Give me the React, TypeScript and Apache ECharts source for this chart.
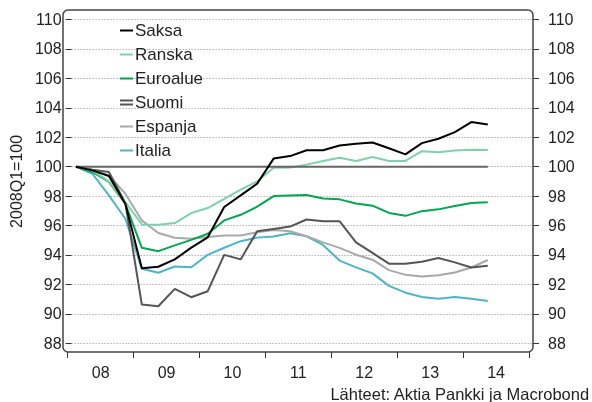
import React, { useEffect, useRef } from 'react';
import * as echarts from 'echarts';

const years = ['08', '09', '10', '11', '12', '13', '14'];
const quarterNames = ['Q1', 'Q2', 'Q3', 'Q4'];
const quarters = years.flatMap((y) => quarterNames.map((q) => `20${y}${q}`));

const saksa = [100, 99.75, 99.37, 97.48, 93.1, 93.2, 93.7, 94.5, 95.2, 97.26, 98.05, 98.85, 100.55, 100.72, 101.12, 101.12, 101.44, 101.55, 101.64, 101.25, 100.84, 101.6, 101.9, 102.35, 103.03, 102.87];
const ranska = [100, 99.75, 99.0, 97.6, 96.08, 96.05, 96.17, 96.85, 97.19, 97.82, 98.44, 99.0, 99.93, 99.95, 100.14, 100.38, 100.61, 100.38, 100.66, 100.39, 100.39, 101.05, 100.98, 101.1, 101.15, 101.13];
const euroalue = [100, 99.64, 98.96, 97.48, 94.49, 94.26, 94.65, 95.03, 95.44, 96.35, 96.73, 97.28, 98.0, 98.05, 98.07, 97.84, 97.78, 97.5, 97.35, 96.86, 96.66, 96.98, 97.1, 97.33, 97.53, 97.58];
const suomi = [100, 99.8, 99.64, 97.53, 90.63, 90.52, 91.7, 91.13, 91.54, 94.01, 93.7, 95.61, 95.77, 95.93, 96.41, 96.3, 96.3, 94.86, 94.14, 93.41, 93.41, 93.54, 93.79, 93.5, 93.15, 93.27];
const espanja = [100, 99.8, 99.41, 98.16, 96.35, 95.49, 95.17, 95.1, 95.22, 95.33, 95.33, 95.55, 95.7, 95.61, 95.27, 94.86, 94.48, 94.02, 93.68, 92.97, 92.65, 92.54, 92.63, 92.81, 93.15, 93.66];
const italia = [100, 99.52, 98.05, 96.46, 93.06, 92.79, 93.22, 93.17, 94.01, 94.49, 94.94, 95.18, 95.25, 95.48, 95.27, 94.68, 93.62, 93.16, 92.75, 91.9, 91.44, 91.14, 91.03, 91.14, 91.03, 90.87];
const indexBase = [100, 100, 100, 100, 100, 100, 100, 100, 100, 100, 100, 100, 100, 100, 100, 100, 100, 100, 100, 100, 100, 100, 100, 100, 100, 100];

const FONT = "'Liberation Sans', Arial, sans-serif";
const SINGLE = 'path://M0,0M13,6M0,2H13V4H0Z';
const DOUBLE = 'path://M0,0H13V2H0ZM0,4H13V6H0Z';

const seriesDefs = [
  { name: 'Italia', data: italia, color: '#4cb6c6', icon: SINGLE },
  { name: 'Espanja', data: espanja, color: '#a9a9a9', icon: SINGLE },
  { name: 'Suomi', data: suomi, color: '#555555', icon: DOUBLE },
  { name: 'Euroalue', data: euroalue, color: '#00a650', icon: SINGLE },
  { name: 'Ranska', data: ranska, color: '#7fd1ab', icon: SINGLE },
  { name: '2008Q1', data: indexBase, color: '#666666', icon: SINGLE },
  { name: 'Saksa', data: saksa, color: '#000000', icon: SINGLE },
];
const legendOrder = ['Saksa', 'Ranska', 'Euroalue', 'Suomi', 'Espanja', 'Italia'];

export default function App() {
  const ref = useRef<HTMLDivElement>(null);
  useEffect(() => {
    if (!ref.current) return;
    const chart = echarts.init(ref.current, null, { renderer: 'svg' });
    const yCommon = {
      type: 'value',
      min: 88,
      max: 110,
      interval: 2,
    };
    chart.setOption({
      animation: false,
      textStyle: { fontFamily: FONT },
      grid: [
        { left: 63, top: 19.5, width: 470, height: 323.8 },
        { left: 67.7, top: 19.5, width: 461.3, height: 323.8 },
      ],
      xAxis: [
        { type: 'value', gridIndex: 0, min: 0, max: 1, show: false },
        {
          type: 'category',
          gridIndex: 1,
          data: years,
          boundaryGap: true,
          position: 'bottom',
          offset: 8.7,
          axisLine: { show: false },
          axisTick: { show: true, length: 6, lineStyle: { color: '#333', width: 1 } },
          axisLabel: { color: '#222', fontSize: 16, fontFamily: FONT, margin: 12 },
          splitLine: { show: false },
        },
        { type: 'category', gridIndex: 1, data: quarters, boundaryGap: true, show: false },
      ],
      yAxis: [
        {
          ...yCommon,
          gridIndex: 0,
          position: 'left',
          name: '2008Q1=100',
          nameLocation: 'middle',
          nameGap: 38,
          nameTextStyle: { color: '#222', fontSize: 16, fontFamily: FONT },
          axisLine: { show: false },
          axisTick: { show: true, length: 6, lineStyle: { color: '#333', width: 1 } },
          axisLabel: { color: '#222', fontSize: 16, fontFamily: FONT, margin: 10 },
          splitLine: { show: true, lineStyle: { color: '#8a8a8a', width: 1, type: [1, 2] } },
        },
        {
          ...yCommon,
          gridIndex: 0,
          position: 'right',
          axisLine: { show: false },
          axisTick: { show: true, length: 6, lineStyle: { color: '#333', width: 1 } },
          axisLabel: { color: '#222', fontSize: 16, fontFamily: FONT, margin: 15 },
          splitLine: { show: false },
        },
        { ...yCommon, gridIndex: 1, show: false, splitLine: { show: false } },
      ],
      legend: {
        orient: 'vertical',
        left: 120,
        top: 22,
        itemWidth: 13,
        itemHeight: 6,
        itemGap: 7,
        padding: 0,
        textStyle: { fontSize: 17, color: '#222', fontFamily: FONT, padding: [0, 0, 0, -3] },
        data: legendOrder.map((n) => {
          const d = seriesDefs.find((s) => s.name === n)!;
          return { name: n, icon: d.icon };
        }),
      },
      series: seriesDefs.map((s) => ({
        name: s.name,
        type: 'line',
        xAxisIndex: 2,
        yAxisIndex: 2,
        data: s.data,
        color: s.color,
        symbol: 'none',
        showSymbol: false,
        lineStyle: { color: s.color, width: 2 },
        itemStyle: { color: s.color },
      })),
      graphic: [
        {
          type: 'rect',
          shape: { x: 63, y: 10, width: 470, height: 342, r: 5 },
          style: { fill: 'none', stroke: '#444', lineWidth: 1.5 },
          silent: true,
          z: 1,
        },
        {
          type: 'text',
          right: 2,
          top: 385,
          style: {
            text: 'Lähteet: Aktia Pankki ja Macrobond',
            fill: '#222',
            fontSize: 16.5,
            fontFamily: FONT,
          },
        },
      ],
    });
    return () => chart.dispose();
  }, []);
  return <div ref={ref} style={{ position: 'fixed', left: 0, top: 0, width: 592, height: 402 }} />;
}
